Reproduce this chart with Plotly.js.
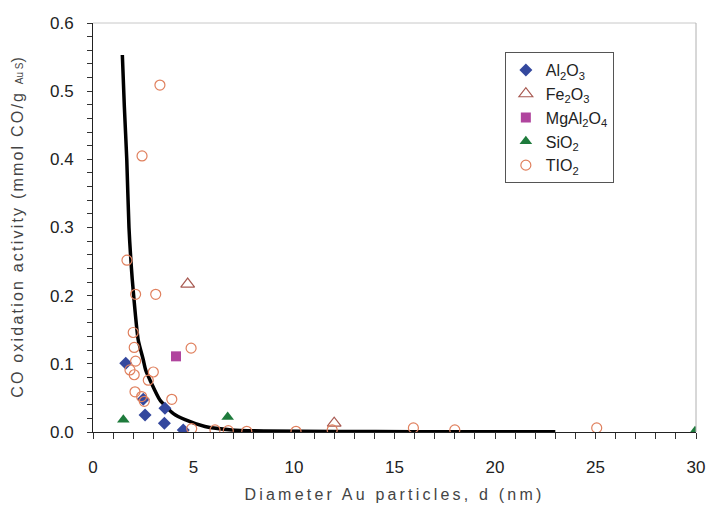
<!DOCTYPE html>
<html>
<head>
<meta charset="utf-8">
<script src="https://cdn.plot.ly/plotly-3.0.1.min.js"></script>
<style>html,body{margin:0;padding:0;background:#fff}#chart{width:708px;height:508px}</style>
</head>
<body>
<div id="chart"></div>
<script>
// Al2O3
const al2o3_x = [1.63, 2.50, 2.59, 3.58, 3.55, 4.49];
const al2o3_y = [0.101, 0.048, 0.025, 0.035, 0.013, 0.003];
// Fe2O3
const fe2o3_x = [4.71, 12.0];
const fe2o3_y = [0.217, 0.013];
// MgAl2O4
const mgal_x = [4.13];
const mgal_y = [0.111];
// SiO2
const sio2_x = [1.51, 6.70, 29.95];
const sio2_y = [0.018, 0.022, 0.001];
// TiO2
const tio2_x = [3.33, 2.44, 1.69, 2.12, 3.12, 2.00, 2.05, 4.88, 2.12, 1.84, 2.05, 3.00, 2.75, 2.09, 2.42, 2.55, 3.92, 4.91, 6.07, 6.73, 7.65, 10.1, 11.9, 15.94, 18.0, 25.06];
const tio2_y = [0.509, 0.405, 0.252, 0.202, 0.202, 0.146, 0.124, 0.123, 0.104, 0.091, 0.084, 0.088, 0.076, 0.059, 0.052, 0.045, 0.048, 0.005, 0.003, 0.002, 0.001, 0.001, 0.003, 0.006, 0.003, 0.006];
// fitted curve
const fit_x = [1.46, 1.56, 1.68, 1.79, 1.95, 2.10, 2.25, 2.50, 2.62, 2.84, 3.33, 4.0, 4.58, 5.57, 6.9, 8.5, 12, 16, 23];
const fit_y = [0.553, 0.477, 0.400, 0.300, 0.225, 0.175, 0.135, 0.106, 0.091, 0.076, 0.047, 0.027, 0.018, 0.008, 0.003, 0.0015, 0.0008, 0.0005, 0.0003];

const traces = [
  {x: fit_x, y: fit_y, mode: 'lines', line: {color: '#000', width: 3.5, shape: 'spline', smoothing: 0.6}, showlegend: false, hoverinfo: 'skip'},
  {x: al2o3_x, y: al2o3_y, mode: 'markers', name: 'Al<sub>2</sub>O<sub>3</sub>',
   marker: {symbol: 'diamond', size: 10, color: '#34489e'}},
  {x: fe2o3_x, y: fe2o3_y, mode: 'markers', name: 'Fe<sub>2</sub>O<sub>3</sub>',
   marker: {symbol: 'triangle-up-open', size: 12, color: '#a85a52', line: {width: 1.2}}},
  {x: mgal_x, y: mgal_y, mode: 'markers', name: 'MgAl<sub>2</sub>O<sub>4</sub>',
   marker: {symbol: 'square', size: 10, color: '#b0459e'}},
  {x: sio2_x, y: sio2_y, mode: 'markers', name: 'SiO<sub>2</sub>',
   marker: {symbol: 'triangle-up', size: 11, color: '#1e7b3c'}},
  {x: tio2_x, y: tio2_y, mode: 'markers', name: 'TIO<sub>2</sub>',
   marker: {symbol: 'circle-open', size: 10, color: '#e0805e', line: {width: 1.2}}}
];

const layout = {
  width: 708, height: 508,
  margin: {l: 93, r: 12, t: 23, b: 76},
  paper_bgcolor: '#fff', plot_bgcolor: '#fff',
  font: {family: 'Liberation Sans, Arial, sans-serif', color: '#222'},
  xaxis: {
    range: [0, 30], dtick: 5, tick0: 0, showgrid: false, zeroline: false,
    showline: true, linecolor: '#222', linewidth: 1,
    ticks: 'outside', ticklen: 6, tickcolor: '#333', ticklabelstandoff: 14,
    minor: {dtick: 1, ticks: 'outside', ticklen: 6, tickcolor: '#333', showgrid: false},
    tickfont: {size: 17, color: '#222'},
    title: {text: '<span style="letter-spacing:3.2px">Diameter Au particles, d (nm)</span>', font: {size: 16, color: '#444'}, standoff: 12}
  },
  yaxis: {
    range: [0, 0.6], dtick: 0.1, tick0: 0, tickformat: '.1f', showgrid: false, zeroline: false,
    showline: true, linecolor: '#222', linewidth: 1,
    ticks: 'outside', ticklen: 5, tickcolor: '#333', ticklabelstandoff: 10,
    minor: {dtick: 0.02, ticks: 'outside', ticklen: 5, tickcolor: '#333', showgrid: false},
    tickfont: {size: 17, color: '#222'},
    title: {text: '<span style="letter-spacing:2.2px">CO oxidation activity (mmol CO/g </span><span style="font-size:10px">Au S</span>)', font: {size: 16, color: '#444'}, standoff: 22}
  },
  shapes: [
    {type: 'line', xref: 'paper', yref: 'paper', x0: 0, x1: 1, y0: 1, y1: 1, line: {color: '#c8c8c8', width: 1}},
    {type: 'line', xref: 'paper', yref: 'paper', x0: 1, x1: 1, y0: 0, y1: 1, line: {color: '#b0b0b0', width: 1}}
  ],
  legend: {
    x: 0.683, y: 0.929, xanchor: 'left', yanchor: 'top',
    bgcolor: '#fff', bordercolor: '#555', borderwidth: 1,
    font: {size: 16, color: '#222'}, itemwidth: 30
  }
};

Plotly.newPlot('chart', traces, layout, {displayModeBar: false, staticPlot: true});
</script>
</body>
</html>
